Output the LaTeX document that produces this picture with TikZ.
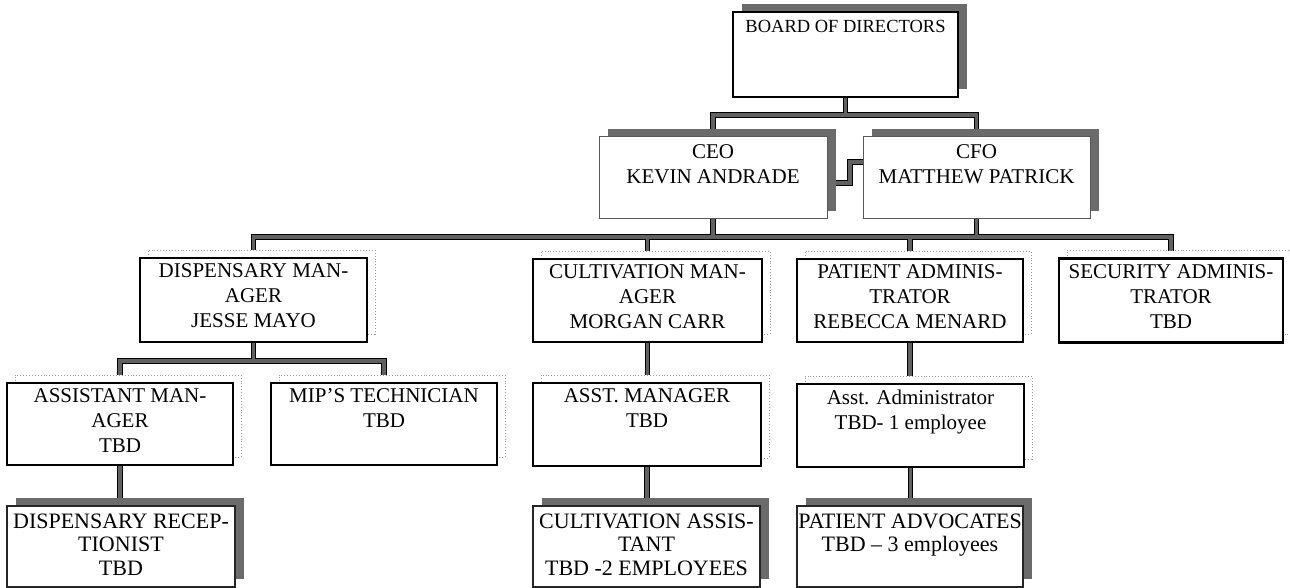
\documentclass[tikz,border=0pt]{standalone}
\usepackage{fontspec}
\setmainfont{Liberation Serif}
\usetikzlibrary{backgrounds}
\begin{document}
\begin{tikzpicture}[x=1pt,y=-1pt,
  dshadow/.style={preaction={fill=black!58, transform canvas={xshift=9pt,yshift=8pt}}},
  lshadow/.style={preaction={fill=white, draw=black!40, dotted, line width=0.9pt, transform canvas={xshift=8pt,yshift=8pt}}},
  boardbox/.style={draw=black, line width=1.4pt, fill=white, dshadow, inner sep=0pt},
  chiefbox/.style={draw=black!65, line width=1pt, fill=white, dshadow, inner sep=0pt},
  midbox/.style={draw=black, line width=2.6pt, fill=white, lshadow, inner sep=0pt},
  lowbox/.style={draw=black!85, line width=1.1pt, fill=white, dshadow, inner sep=0pt},
  lblA/.style={anchor=north, align=center, inner sep=0pt, yshift=-9pt, font=\fontsize{18.5}{22}\selectfont},
  lblB/.style={anchor=north, align=center, inner sep=0pt, yshift=-7pt, font=\fontsize{21}{25}\selectfont},
  lblC/.style={anchor=north, align=center, inner sep=0pt, yshift=-8pt, font=\fontsize{22}{23.5}\selectfont},
  conn/.style={draw=black, line width=1.1pt, double=black!62, double distance=3.2pt}
]
\useasboundingbox (0,0) rectangle (1290,588);

% boxes
\node[boardbox, minimum width=225pt, minimum height=85pt,
  label={[lblA]north:BOARD OF DIRECTORS}] (board) at (845.5,54.5) {};
\node[chiefbox, minimum width=228pt, minimum height=82pt,
  label={[lblB, yshift=-1pt]north:CEO\\KEVIN ANDRADE}] (ceo) at (713,178) {};
\node[chiefbox, minimum width=227pt, minimum height=82pt,
  label={[lblB, yshift=-1pt]north:CFO\\MATTHEW PATRICK}] (cfo) at (976.5,178) {};

\node[midbox, minimum width=227pt, minimum height=84pt,
  label={[lblB]north:DISPENSARY MAN-\\AGER\\JESSE MAYO}] (disp) at (253.5,300) {};
\node[midbox, minimum width=229pt, minimum height=83pt,
  label={[lblB]north:CULTIVATION MAN-\\AGER\\MORGAN CARR}] (cult) at (647.5,300.5) {};
\node[midbox, minimum width=226pt, minimum height=83pt,
  label={[lblB]north:PATIENT ADMINIS-\\TRATOR\\REBECCA MENARD}] (pat) at (910,300.5) {};
\node[midbox, minimum width=224pt, minimum height=84pt,
  label={[lblB]north:SECURITY ADMINIS-\\TRATOR\\TBD}] (sec) at (1171,300.5) {};

\node[midbox, minimum width=226pt, minimum height=82pt,
  label={[lblB]north:ASSISTANT MAN-\\AGER\\TBD}] (am) at (120,424) {};
\node[midbox, minimum width=226pt, minimum height=82pt,
  label={[lblB]north:MIP’S TECHNICIAN\\TBD}] (mip) at (384,424) {};
\node[midbox, minimum width=228pt, minimum height=83pt,
  label={[lblB]north:ASST. MANAGER\\TBD}] (am2) at (647,424.5) {};
\node[midbox, minimum width=227pt, minimum height=83pt,
  label={[lblB]north:Asst. Administrator\\TBD- 1 employee}] (aa) at (910.5,425.5) {};

\node[lowbox, minimum width=228pt, minimum height=81pt,
  label={[lblC]north:DISPENSARY RECEP-\\TIONIST\\TBD}] (rec) at (121,546.5) {};
\node[lowbox, minimum width=227pt, minimum height=81pt,
  label={[lblC]north:CULTIVATION ASSIS-\\TANT\\TBD -2 EMPLOYEES}] (ca) at (646.5,546.5) {};
\node[lowbox, minimum width=226pt, minimum height=81pt,
  label={[lblC]north:PATIENT ADVOCATES\\TBD – 3 employees}] (adv) at (910,546.5) {};

% junction levels
\coordinate (jb) at (0,115);
\coordinate (jl) at (0,237);
\coordinate (jd) at (0,361);
\coordinate (jc) at (850,183);
\coordinate (jc2) at (850,162);

\begin{scope}[on background layer]
\draw[conn]
  (board.south) -- (board.south |- jb)
  (ceo.north) -- (ceo.north |- jb) -- (cfo.north |- jb) -- (cfo.north)
  (ceo.east |- jc) -- (jc) -- (jc2) -- (cfo.west |- jc2)
  (disp.north) -- (disp.north |- jl) -- (sec.north |- jl) -- (sec.north)
  (ceo.south) -- (ceo.south |- jl)
  (cfo.south) -- (cfo.south |- jl)
  (cult.north) -- (cult.north |- jl)
  (pat.north) -- (pat.north |- jl)
  (disp.south) -- (disp.south |- jd)
  (am.north) -- (am.north |- jd) -- (mip.north |- jd) -- (mip.north)
  (am.south) -- (am.south |- rec.north)
  (cult.south) -- (cult.south |- am2.north)
  (am2.south) -- (am2.south |- ca.north)
  (pat.south) -- (pat.south |- aa.north)
  (aa.south) -- (aa.south |- adv.north);
\end{scope}
\end{tikzpicture}
\end{document}
